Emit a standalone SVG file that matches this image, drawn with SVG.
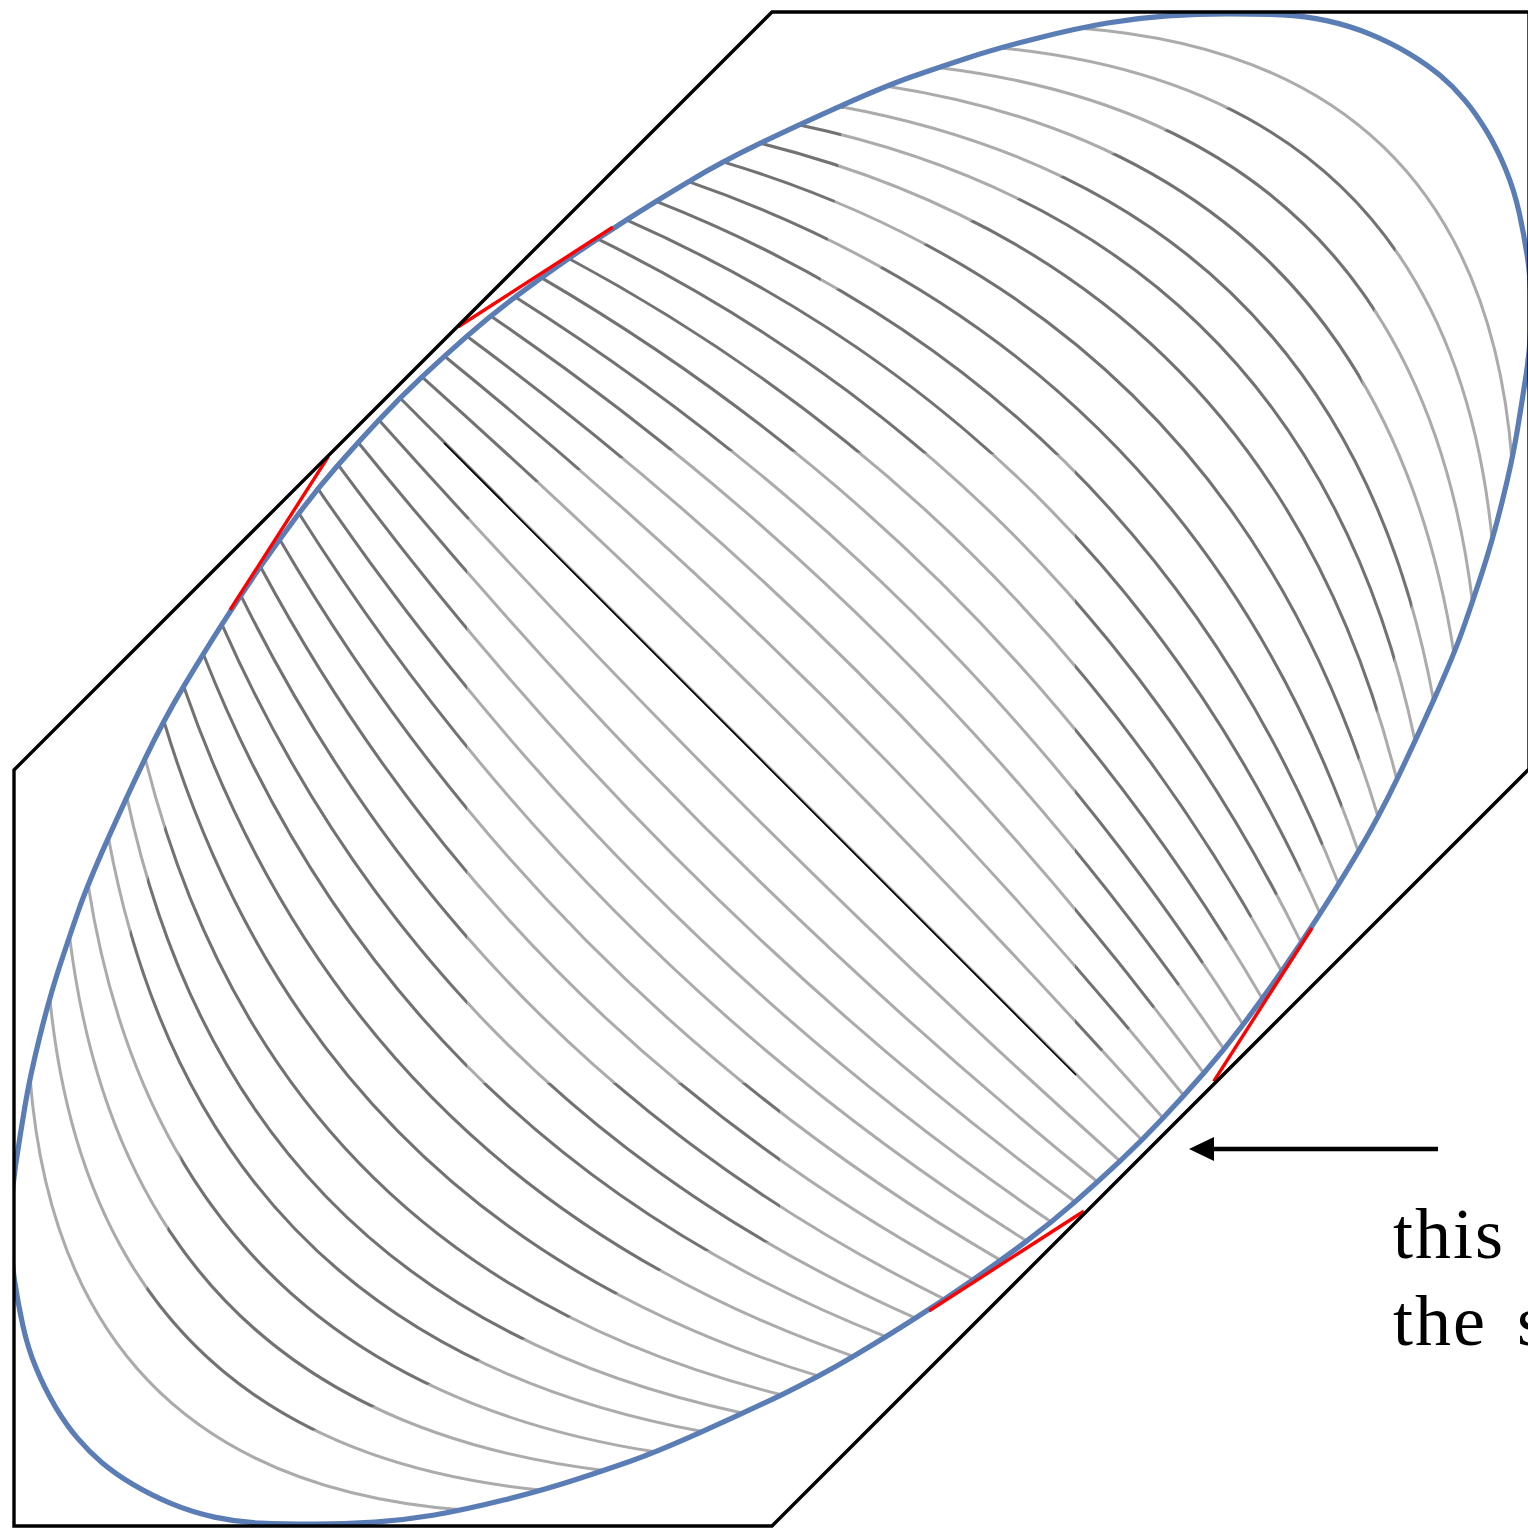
<svg xmlns="http://www.w3.org/2000/svg" xmlns:xlink="http://www.w3.org/1999/xlink" width="1528" height="1529" viewBox="0 0 1528 1529">
<defs>
<style>
.g{fill:none;stroke-width:3}
.blue{fill:none;stroke:#5b7db6;stroke-width:5.2}
.hex{fill:none;stroke:#000;stroke-width:3.4;stroke-linejoin:miter}
.red{fill:none;stroke:#f00;stroke-width:3.4}
.txt{font-family:"Liberation Serif","Times New Roman",serif;font-size:72px;letter-spacing:2px;fill:#000}
</style>
<clipPath id="hexclip"><polygon points="14,770 772,12 1529,12 1529,769 772,1526 14,1526"/></clipPath>
<clipPath id="darkclip"><polygon points="150,745 0,620 0,0 845,0 845,95 835,200 818,295 850,285 890,262 933,240 977,218 1022,197 1068,173 1117,152 1170,128 1230,107 1300,125 1368,172 1397,245 1375,307 1360,373 1385,480 1417,590 1398,648 1382,698 1363,748 1347,793 1330,835 1307,864 1283,889 1260,909 1233,934 1190,975 1140,1020 1090,1060 1075,1060 1075,455 650,450 533,483 467,520 467,1083 780,1083 780,1240 692,1253 609,1298 520,1341 425,1386 312,1431 242,1413 174,1366 145,1293 167,1231 182,1165 157,1058 125,948 144,890 160,840 179,790"/></clipPath>
<g id="curves" class="g">
<path d="M399.8 397.8L1142.2 1140.2"/>
<path d="M422.0 376.9Q813.1 726.9 1163.1 1118.0"/>
<path d="M444.3 356.0Q852.3 687.7 1184.0 1095.7"/>
<path d="M466.9 336.2Q890.5 649.5 1203.8 1073.1"/>
<path d="M490.3 315.7Q926.6 613.4 1224.3 1049.7"/>
<path d="M515.3 296.9Q961.2 578.8 1243.1 1024.7"/>
<path d="M541.2 277.6Q996.6 543.4 1262.4 998.8"/>
<path d="M568.8 258.5Q1032.6 507.4 1281.5 971.2"/>
<path d="M597.1 238.7Q1069.4 470.6 1301.3 942.9"/>
<path d="M626.4 219.9Q1107.6 432.4 1320.1 913.6"/>
<path d="M655.7 201.2Q1145.8 394.2 1338.8 884.3"/>
<path d="M688.6 181.7Q1186.1 353.9 1358.3 851.4"/>
<path d="M722.2 161.6Q1227.1 312.9 1378.4 817.8"/>
<path d="M760.4 143.2Q1269.5 270.5 1396.8 779.6"/>
<path d="M798.6 124.8Q1307.7 232.3 1415.2 741.4"/>
<path d="M839.6 106.4Q1341.6 198.4 1433.6 700.4"/>
<path d="M885.6 85.9Q1377.7 162.3 1454.1 654.4"/>
<path d="M937.9 67.5Q1414.5 125.5 1472.5 602.1"/>
<path d="M998.7 47.7Q1449.1 90.9 1492.3 541.3"/>
<path d="M1077.9 27.9Q1481.6 58.4 1512.1 462.1"/>
<path d="M1120.0 1161.1Q728.9 811.1 378.9 420.0"/>
<path d="M1097.7 1182.0Q689.7 850.3 358.0 442.3"/>
<path d="M1075.1 1201.8Q651.5 888.5 338.2 464.9"/>
<path d="M1051.7 1222.3Q615.4 924.6 317.7 488.3"/>
<path d="M1026.7 1241.1Q580.8 959.2 298.9 513.3"/>
<path d="M1000.8 1260.4Q545.4 994.6 279.6 539.2"/>
<path d="M973.2 1279.5Q509.4 1030.6 260.5 566.8"/>
<path d="M944.9 1299.3Q472.6 1067.4 240.7 595.1"/>
<path d="M915.6 1318.1Q434.4 1105.6 221.9 624.4"/>
<path d="M886.3 1336.8Q396.2 1143.8 203.2 653.7"/>
<path d="M853.4 1356.3Q355.9 1184.1 183.7 686.6"/>
<path d="M819.8 1376.4Q314.9 1225.1 163.6 720.2"/>
<path d="M781.6 1394.8Q272.5 1267.5 145.2 758.4"/>
<path d="M743.4 1413.2Q234.3 1305.7 126.8 796.6"/>
<path d="M702.4 1431.6Q200.4 1339.6 108.4 837.6"/>
<path d="M656.4 1452.1Q164.3 1375.7 87.9 883.6"/>
<path d="M604.1 1470.5Q127.5 1412.5 69.5 935.9"/>
<path d="M543.3 1490.3Q92.9 1447.1 49.7 996.7"/>
<path d="M464.1 1510.1Q60.4 1479.6 29.9 1075.9"/>
</g>
</defs>
<g id="contours">
<use xlink:href="#curves" href="#curves" stroke="#000" stroke-opacity="0.33"/>
<use xlink:href="#curves" href="#curves" stroke="#000" stroke-opacity="0.33" clip-path="url(#darkclip)"/>
</g>
<g id="boundary" clip-path="url(#hexclip)">
<path class="blue" d="M378.95 420.05Q399.8 397.8 422.05 376.95Q444.3 356.1 467.3 335.9Q490.3 315.7 515.75 296.65Q541.2 277.6 569.15 258.15Q597.1 238.7 626.4 219.95Q655.7 201.2 688.95 181.4Q722.2 161.6 760.4 143.2Q798.6 124.8 842.1 105.35Q885.6 85.9 911.75 76.75Q937.9 67.6 968.3 57.7Q998.7 47.8 1038.3 37.9Q1077.9 28.0 1107.6 23.0Q1137.3 18.0 1167.35 15.9Q1197.4 13.8 1228.15 13.8Q1258.9 13.8 1281.9 14.85Q1304.9 15.9 1327.5 20.85Q1350.1 25.8 1370.6 34.3Q1391.1 42.8 1408.8 53.4Q1426.5 64.0 1439.95 75.3Q1453.4 86.6 1464.7 100.05Q1476.0 113.5 1486.6 131.2Q1497.2 148.9 1505.7 169.4Q1514.2 189.9 1519.15 212.5Q1524.1 235.1 1527.55 258.1Q1531 281.1 1531 311.85Q1531 342.6 1526.45 372.65Q1521.9 402.7 1516.95 432.4Q1512.0 462.1 1502.15 501.7Q1492.3 541.3 1482.35 571.7Q1472.4 602.1 1463.25 628.25Q1454.1 654.4 1434.65 697.9Q1415.2 741.4 1396.8 779.6Q1378.4 817.8 1358.6 851.05Q1338.8 884.3 1320.05 913.65Q1301.3 943.0 1281.85 970.9Q1262.4 998.8 1243.35 1024.25Q1224.3 1049.7 1204.1 1072.7Q1183.9 1095.7 1163.05 1117.95Q1142.2 1140.2 1119.95 1161.05Q1097.7 1181.9 1074.7 1202.1Q1051.7 1222.3 1026.25 1241.35Q1000.8 1260.4 972.85 1279.85Q944.9 1299.3 915.6 1318.05Q886.3 1336.8 853.05 1356.6Q819.8 1376.4 781.6 1394.8Q743.4 1413.2 699.9 1432.65Q656.4 1452.1 630.25 1461.25Q604.1 1470.4 573.7 1480.3Q543.3 1490.2 503.7 1500.1Q464.1 1510.0 434.4 1515.0Q404.7 1520.0 374.65 1522.1Q344.6 1524.2 313.85 1524.2Q283.1 1524.2 260.1 1523.15Q237.1 1522.1 214.5 1517.15Q191.9 1512.2 171.4 1503.7Q150.9 1495.2 133.2 1484.6Q115.5 1474.0 102.05 1462.7Q88.6 1451.4 77.3 1437.95Q66.0 1424.5 55.4 1406.8Q44.8 1389.1 36.3 1368.6Q27.8 1348.1 22.85 1325.5Q17.9 1302.9 14.45 1279.9Q11 1256.9 11 1226.15Q11 1195.4 15.55 1165.35Q20.1 1135.3 25.05 1105.6Q30.0 1075.9 39.85 1036.3Q49.7 996.7 59.65 966.3Q69.6 935.9 78.75 909.75Q87.9 883.6 107.35 840.1Q126.8 796.6 145.2 758.4Q163.6 720.2 183.4 686.95Q203.2 653.7 221.95 624.35Q240.7 595.0 260.15 567.1Q279.6 539.2 298.65 513.75Q317.7 488.3 337.9 465.3Q358.1 442.3 378.95 420.05Z"/>
</g>
<g id="axis"><line x1="444" y1="443" x2="1076" y2="1075" stroke="#000" stroke-width="1.6"/></g>
<g id="tangents">
<line class="red" x1="230" y1="610" x2="328.3" y2="456.7"/>
<line class="red" x1="458.3" y1="326.7" x2="612.7" y2="227.3"/>
<line class="red" x1="929.3" y1="1310.7" x2="1083.7" y2="1211.3"/>
<line class="red" x1="1312" y1="928" x2="1213.7" y2="1081.3"/>
</g>
<g id="hexagon"><polygon class="hex" points="14,770 772,12 1529,12 1529,769 772,1526 14,1526"/></g>
<g id="arrow">
<line x1="1438" y1="1149" x2="1210" y2="1149" stroke="#000" stroke-width="4.6"/>
<polygon points="1189,1149 1214,1137 1214,1161" fill="#000"/>
</g>
<g id="label">
<text class="txt" x="1393" y="1258">this</text>
<text class="txt" x="1393" y="1345">the <tspan x="1517">s</tspan></text>
</g>
</svg>
